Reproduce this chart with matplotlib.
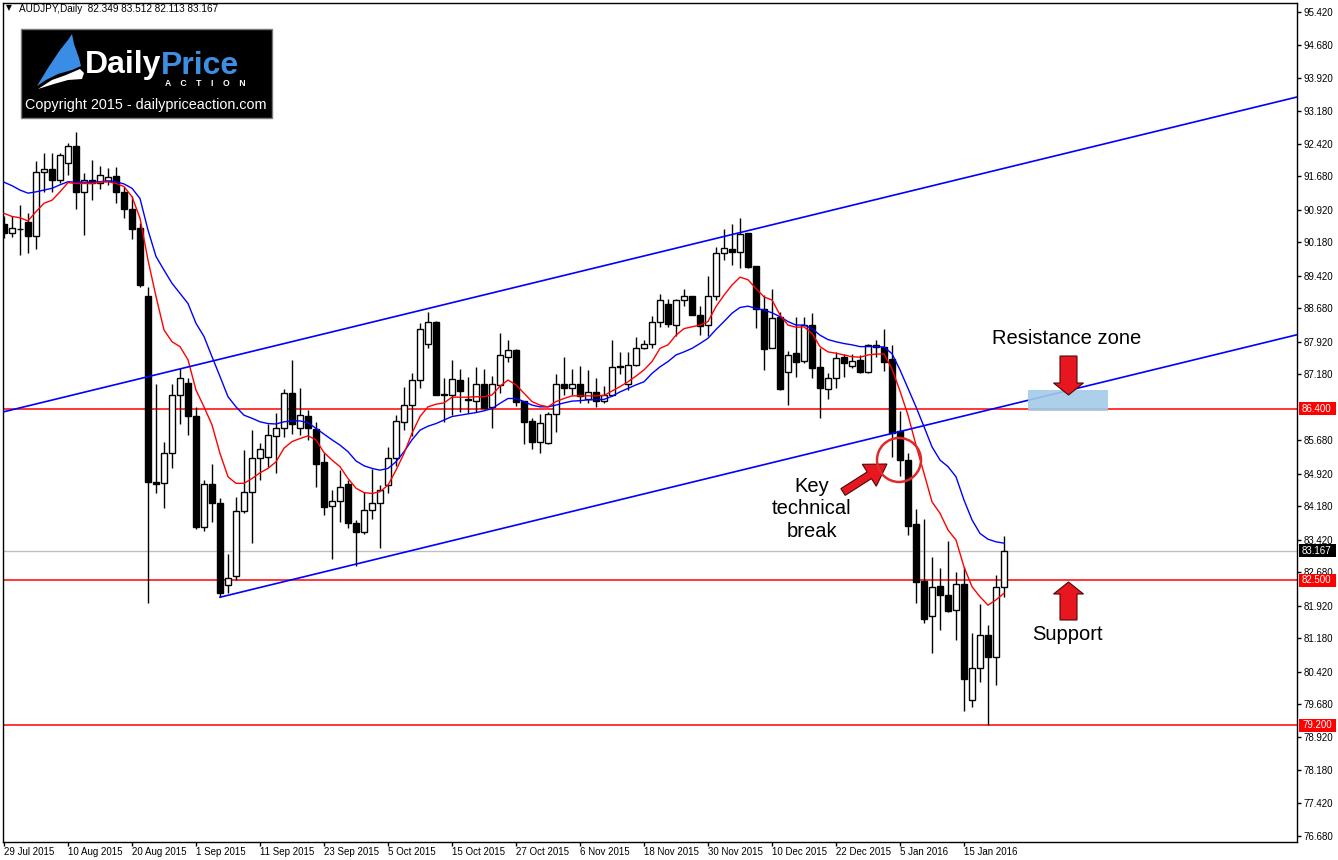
import matplotlib
matplotlib.use("Agg")
import matplotlib.pyplot as plt
from matplotlib.patches import Rectangle, Polygon, Circle
import numpy as np

# ---------------- data ----------------
symbol_header = "AUDJPY,Daily  82.349 83.512 82.113 83.167"

opens = [90.60, 90.39, 90.49, 90.64, 90.33, 91.77, 91.85, 91.60, 91.99, 92.37,
         91.33, 91.61, 91.52, 91.58, 91.69, 91.33, 90.93, 90.50, 88.95, 84.73,
         84.70, 85.38, 86.70, 86.99, 86.23, 83.71, 84.68, 84.25, 82.39, 82.59,
         84.06, 84.51, 85.27, 85.31, 85.78, 85.97, 86.75, 85.97, 86.23, 85.93,
         85.19, 84.19, 84.30, 84.68, 83.79, 83.59, 84.09, 84.26, 84.66, 85.27,
         86.10, 86.48, 87.05, 87.88, 88.38, 86.73, 86.72, 87.05, 86.60, 86.58,
         86.97, 86.43, 86.94, 87.58, 87.73, 86.57, 86.12, 85.65, 85.62, 86.27,
         86.97, 86.88, 86.95, 86.62, 86.77, 86.57, 86.72, 87.35, 86.95, 87.39,
         87.77, 87.87, 88.36, 88.79, 88.30, 88.87, 88.95, 88.54, 88.30, 88.95,
         89.93, 90.04, 89.97, 90.39, 89.64, 88.66, 87.77, 88.49, 87.24, 87.66,
         87.48, 88.30, 87.35, 86.84, 87.09, 87.58, 87.38, 87.50, 87.24, 87.85,
         87.80, 87.53, 85.88, 85.23, 83.78, 82.49, 81.68, 82.37, 82.16, 81.82,
         82.42, 79.77, 80.49, 81.25, 80.74, 82.349]
highs = [90.78, 90.77, 91.03, 90.84, 92.03, 92.21, 92.22, 92.22, 92.45, 92.69,
         91.75, 92.05, 91.92, 91.88, 91.90, 91.45, 91.24, 90.63, 89.16, 86.95,
         85.64, 86.95, 87.32, 87.10, 86.44, 84.78, 85.13, 84.36, 83.09, 84.40,
         85.46, 85.91, 85.61, 86.06, 86.31, 86.85, 87.50, 86.86, 86.37, 86.10,
         85.38, 84.55, 85.00, 84.77, 83.86, 84.51, 85.03, 84.66, 85.52, 86.25,
         86.90, 87.20, 88.34, 88.60, 88.39, 87.09, 87.50, 87.31, 87.11, 87.34,
         87.29, 87.14, 88.11, 87.97, 87.75, 86.57, 86.19, 86.28, 86.33, 87.18,
         87.58, 87.30, 87.37, 87.28, 87.09, 86.92, 87.96, 87.68, 87.69, 88.02,
         87.96, 88.51, 89.00, 88.89, 88.89, 89.11, 88.95, 88.73, 89.42, 90.08,
         90.48, 90.60, 90.73, 90.40, 89.64, 88.99, 89.13, 88.60, 87.71, 88.49,
         88.49, 88.57, 87.77, 87.20, 87.69, 87.64, 87.64, 87.62, 87.87, 87.97,
         88.20, 87.85, 86.35, 85.40, 84.11, 83.90, 83.02, 82.77, 83.39, 82.68,
         82.80, 81.29, 81.95, 81.48, 82.62, 83.512]
lows = [90.28, 90.30, 89.89, 89.95, 90.04, 91.33, 91.33, 91.52, 91.71, 90.95,
        90.35, 91.14, 91.39, 91.49, 91.08, 90.73, 90.25, 89.17, 81.97, 84.47,
        84.13, 85.04, 86.05, 85.80, 83.67, 83.62, 83.83, 82.11, 82.20, 82.50,
        84.03, 83.34, 84.78, 85.08, 84.93, 85.76, 85.82, 85.80, 85.69, 84.62,
        83.98, 82.97, 83.83, 83.68, 82.82, 83.54, 83.90, 83.24, 84.47, 85.10,
        85.91, 85.78, 86.86, 87.77, 86.71, 86.10, 86.25, 86.33, 86.29, 86.33,
        86.41, 85.97, 86.75, 87.47, 86.46, 85.60, 85.48, 85.40, 85.59, 85.87,
        86.71, 86.71, 86.52, 86.52, 86.44, 86.52, 86.69, 87.19, 86.82, 87.37,
        87.75, 87.77, 88.26, 88.26, 88.04, 88.73, 88.53, 88.07, 88.04, 88.87,
        89.78, 89.67, 89.59, 89.59, 88.24, 87.28, 87.77, 86.82, 86.48, 87.13,
        87.43, 87.10, 86.18, 86.62, 86.86, 87.13, 87.33, 87.22, 87.22, 87.58,
        87.25, 85.31, 84.87, 83.52, 81.97, 81.52, 80.85, 81.36, 81.77, 81.14,
        79.53, 79.62, 80.19, 79.20, 80.11, 82.113]
closes = [90.39, 90.50, 90.48, 90.33, 91.77, 91.84, 91.60, 92.17, 92.37, 91.33,
          91.61, 91.52, 91.71, 91.67, 91.32, 90.93, 90.49, 89.20, 84.72, 84.68,
          85.38, 86.70, 87.09, 86.23, 83.71, 84.68, 84.25, 82.21, 82.55, 84.06,
          84.50, 85.27, 85.47, 85.80, 85.97, 86.75, 86.04, 86.25, 85.95, 85.15,
          84.17, 84.30, 84.62, 83.79, 83.59, 84.09, 84.25, 84.55, 85.27, 86.12,
          86.48, 87.05, 88.20, 88.36, 86.72, 86.72, 87.07, 86.81, 86.60, 86.97,
          86.41, 86.95, 87.63, 87.73, 86.56, 86.10, 85.65, 86.07, 86.27, 86.97,
          86.88, 86.95, 86.69, 86.77, 86.58, 86.72, 87.34, 87.36, 87.39, 87.77,
          87.88, 88.36, 88.87, 88.32, 88.87, 88.95, 88.54, 88.28, 88.95, 89.93,
          90.05, 89.97, 90.36, 89.63, 88.66, 87.76, 88.47, 86.84, 87.63, 87.47,
          88.30, 87.33, 86.88, 87.09, 87.56, 87.43, 87.48, 87.24, 87.84, 87.79,
          87.45, 85.84, 85.22, 83.74, 82.46, 81.62, 82.35, 82.15, 81.80, 82.42,
          80.24, 80.49, 81.25, 80.74, 82.35, 83.167]

ma_fast = [90.84, 90.77, 90.74, 90.67, 90.88, 91.07, 91.14, 91.33, 91.54, 91.52,
           91.52, 91.52, 91.55, 91.56, 91.52, 91.45, 91.22, 90.73, 89.78, 88.95,
           88.19, 87.92, 87.81, 87.51, 86.82, 86.44, 86.03, 85.38, 84.85, 84.70,
           84.70, 84.81, 84.94, 85.04, 85.19, 85.50, 85.65, 85.72, 85.78, 85.69,
           85.40, 85.23, 85.08, 84.81, 84.59, 84.49, 84.47, 84.51, 84.66, 85.00,
           85.38, 85.84, 86.22, 86.44, 86.50, 86.53, 86.66, 86.66, 86.66, 86.67,
           86.67, 86.71, 86.91, 87.05, 86.94, 86.75, 86.56, 86.48, 86.44, 86.56,
           86.63, 86.69, 86.69, 86.69, 86.69, 86.70, 86.80, 86.90, 87.01, 87.14,
           87.28, 87.47, 87.77, 87.85, 88.07, 88.22, 88.26, 88.30, 88.38, 88.72,
           88.98, 89.21, 89.39, 89.33, 89.13, 88.94, 88.87, 88.53, 88.30, 88.25,
           88.26, 88.11, 87.81, 87.69, 87.66, 87.62, 87.58, 87.57, 87.62, 87.64,
           87.64, 87.30, 86.80, 86.25, 85.57, 84.93, 84.28, 84.02, 83.64, 83.41,
           82.80, 82.35, 82.12, 81.93, 82.05, 82.20]
ma_slow = [91.55, 91.47, 91.37, 91.30, 91.33, 91.37, 91.41, 91.49, 91.56, 91.55,
           91.55, 91.55, 91.56, 91.58, 91.56, 91.51, 91.41, 91.18, 90.46, 89.86,
           89.55, 89.25, 89.02, 88.79, 88.34, 88.04, 87.58, 87.13, 86.67, 86.44,
           86.25, 86.18, 86.10, 86.06, 86.05, 86.10, 86.12, 86.12, 86.08, 85.95,
           85.82, 85.69, 85.57, 85.42, 85.21, 85.10, 85.04, 85.00, 85.04, 85.19,
           85.42, 85.69, 85.91, 86.00, 86.06, 86.14, 86.22, 86.25, 86.28, 86.31,
           86.35, 86.40, 86.52, 86.63, 86.63, 86.56, 86.48, 86.44, 86.44, 86.48,
           86.53, 86.57, 86.58, 86.60, 86.60, 86.61, 86.68, 86.78, 86.86, 86.94,
           87.01, 87.20, 87.35, 87.47, 87.62, 87.69, 87.77, 87.88, 88.00, 88.20,
           88.38, 88.57, 88.70, 88.73, 88.68, 88.64, 88.58, 88.49, 88.38, 88.30,
           88.30, 88.22, 88.07, 87.97, 87.92, 87.88, 87.85, 87.81, 87.81, 87.81,
           87.80, 87.65, 87.28, 86.86, 86.44, 85.99, 85.53, 85.23, 85.08, 84.85,
           84.32, 83.87, 83.56, 83.43, 83.37, 83.34]

date_ticks = [0, 8, 16, 24, 32, 40, 48, 56, 64, 72, 80, 88, 96, 104, 112, 120]
date_labels = ["29 Jul 2015", "10 Aug 2015", "20 Aug 2015", "1 Sep 2015", "11 Sep 2015",
               "23 Sep 2015", "5 Oct 2015", "15 Oct 2015", "27 Oct 2015", "6 Nov 2015",
               "18 Nov 2015", "30 Nov 2015", "10 Dec 2015", "22 Dec 2015", "5 Jan 2016",
               "15 Jan 2016"]
price_ticks = [95.42, 94.68, 93.92, 93.18, 92.42, 91.68, 90.92, 90.18, 89.42, 88.68,
               87.92, 87.18, 85.68, 84.92, 84.18, 83.42, 82.68, 81.92, 81.18,
               80.42, 79.68, 78.92, 78.18, 77.42, 76.68]

levels = [86.40, 82.50, 79.20]
bid_price = 83.167
upper_channel = ([-0.125, 161.625], [86.323, 93.487])
lower_channel = ([27, 161.625], [82.11, 88.08])
zone_bars = (128.0, 138.0)
zone_prices = (86.346, 86.823)

# ---------------- layout ----------------
W, H = 1338, 860
L, R, T, B = 3, 1297, 3, 842
XMIN, XMAX = -0.125, 161.625
YMIN, YMAX = 76.543, 95.625

plt.rcParams['font.family'] = ['Liberation Sans', 'DejaVu Sans']
fig = plt.figure(figsize=(W / 100, H / 100), dpi=100)
fig.patch.set_facecolor('white')
ax = fig.add_axes([L / W, 1 - B / H, (R - L) / W, (B - T) / H])
ax.set_xlim(XMIN, XMAX)
ax.set_ylim(YMIN, YMAX)

def py(p):
    return T + (YMAX - p) / (YMAX - YMIN) * (B - T)

n = len(closes)
idx = np.arange(n)

# horizontal levels
for lv in levels:
    ax.axhline(lv, color='#ff0000', lw=1.1, zorder=1)
ax.axhline(bid_price, color='#c0c0c0', lw=1.0, zorder=1)

# candles
o = np.array(opens); c = np.array(closes); h = np.array(highs); l = np.array(lows)
ax.vlines(idx, l, h, color='black', lw=1.0, zorder=2)
up = c >= o
bot = np.minimum(o, c)
ht = np.maximum(np.abs(c - o), 0.012)
ax.bar(idx[up], ht[up], bottom=bot[up], width=0.68, facecolor='white',
       edgecolor='black', lw=1.0, zorder=3)
ax.bar(idx[~up], ht[~up], bottom=bot[~up], width=0.68, facecolor='black',
       edgecolor='black', lw=1.0, zorder=3)

# moving averages
ax.plot(idx, ma_slow, color='#0000ff', lw=1.0, zorder=4)
ax.plot(idx, ma_fast, color='#ff0000', lw=1.0, zorder=4)

# channel lines
ax.plot(upper_channel[0], upper_channel[1], color='#0000ff', lw=1.2, zorder=5)
ax.plot(lower_channel[0], lower_channel[1], color='#0000ff', lw=1.2, zorder=5)

# resistance zone
ax.add_patch(Rectangle((zone_bars[0], zone_prices[0]), zone_bars[1] - zone_bars[0],
                       zone_prices[1] - zone_prices[0], facecolor='#a4cbe8',
                       edgecolor='none', alpha=0.9, zorder=6))

# axes styling
for s in ax.spines.values():
    s.set_color('black'); s.set_linewidth(1.0)
ax.yaxis.tick_right()
ax.set_yticks(price_ticks)
ax.set_yticklabels([f"{v:.3f}" for v in price_ticks])
ax.set_xticks(date_ticks)
ax.set_xticklabels(date_labels)
ax.tick_params(axis='y', direction='out', length=3, width=1, pad=2, labelsize=7,
               colors='black', right=True, left=False)
ax.tick_params(axis='x', direction='out', length=3, width=1, pad=0.5, labelsize=7,
               colors='black')
for lab in ax.get_xticklabels():
    lab.set_horizontalalignment('left')

# ---------------- overlay (pixel coordinates) ----------------
ov = fig.add_axes([0, 0, 1, 1], facecolor='none')
ov.set_xlim(0, W); ov.set_ylim(H, 0); ov.axis('off')
ov.set_zorder(10)

# header
ov.text(9, 8, "\u25bc", fontsize=5.5, ha='center', va='center', family='DejaVu Sans')
ov.text(19, 8.5, symbol_header, fontsize=7.2, ha='left', va='center', color='black')

# logo
ov.add_patch(Rectangle((20.5, 28.5), 251, 89, facecolor='black', edgecolor='#7a7a7a', lw=1))
ov.add_patch(Polygon([(37, 86), (48, 68), (60, 50), (68, 40), (72, 34), (74, 44),
                      (79, 58), (81, 66), (72, 70), (58, 74), (46, 80)],
                     closed=True, facecolor='#3a8de4', edgecolor='none'))
ov.add_patch(Polygon([(38, 89), (52, 80), (66, 75), (80, 69), (84, 73), (82, 79),
                      (68, 80), (54, 84)], closed=True, facecolor='white', edgecolor='none'))
ov.text(85, 73.5, "Daily", color='white', fontsize=23, fontweight='bold', ha='left', va='baseline')
ov.text(161, 73.5, "Price", color='#3d8fe3', fontsize=23, fontweight='bold', ha='left', va='baseline')
ov.text(205, 83, "A    C    T    I    O    N", color='white', fontsize=6.2, fontweight='bold',
        ha='center', va='center')
ov.text(146, 105, "Copyright 2015 - dailypriceaction.com", color='white', fontsize=10.4,
        ha='center', va='center')

# level labels on the price axis
def level_box(p, txt, bg):
    yc = py(p)
    ov.add_patch(Rectangle((1299, yc - 6.5), 37, 13, facecolor=bg, edgecolor='none', zorder=11))
    ov.text(1302, yc, txt, color='white', fontsize=7, ha='left', va='center', zorder=12)

level_box(86.40, "86.400", '#ff0000')
level_box(bid_price, "83.167", 'black')
level_box(82.50, "82.500", '#ff0000')
level_box(79.20, "79.200", '#ff0000')

# annotations
ov.text(1067, 338, "Resistance zone", fontsize=14.5, ha='center', va='center', color='black')
ov.text(1067, 635, "Support", fontsize=14.5, ha='center', va='center', color='black')
ov.text(812, 509, "Key\ntechnical\nbreak", fontsize=14.5, ha='center', va='center',
        color='black', linespacing=1.22)

red = '#e8161e'
edge = '#4a0a0a'
cx = 1068.5
ov.add_patch(Polygon([(cx - 8.5, 356), (cx + 8.5, 356), (cx + 8.5, 383), (cx + 15, 383),
                      (cx, 395), (cx - 15, 383), (cx - 8.5, 383)], closed=True,
                     facecolor=red, edgecolor=edge, lw=0.8))
ov.add_patch(Polygon([(cx - 8.5, 620), (cx + 8.5, 620), (cx + 8.5, 594), (cx + 15, 594),
                      (cx, 582), (cx - 15, 594), (cx - 8.5, 594)], closed=True,
                     facecolor=red, edgecolor=edge, lw=0.8))

# diagonal arrow
tail = np.array([843.0, 492.0]); tip = np.array([887.0, 464.0])
d = tip - tail; ln = np.hypot(*d); u = d / ln; nrm = np.array([-u[1], u[0]])
hl, hw, sw = 21.0, 13.0, 4.0
base = tip - u * hl
pts = [tail + nrm * sw, base + nrm * sw, base + nrm * hw, tip, base - nrm * hw,
       base - nrm * sw, tail - nrm * sw]
ov.add_patch(Polygon([tuple(p) for p in pts], closed=True, facecolor=red, edgecolor=edge, lw=0.8))

ov.add_patch(Circle((899, 460), 22, facecolor='none', edgecolor='#e02a2a', lw=1.8))

fig.savefig("out.png", dpi=100)
